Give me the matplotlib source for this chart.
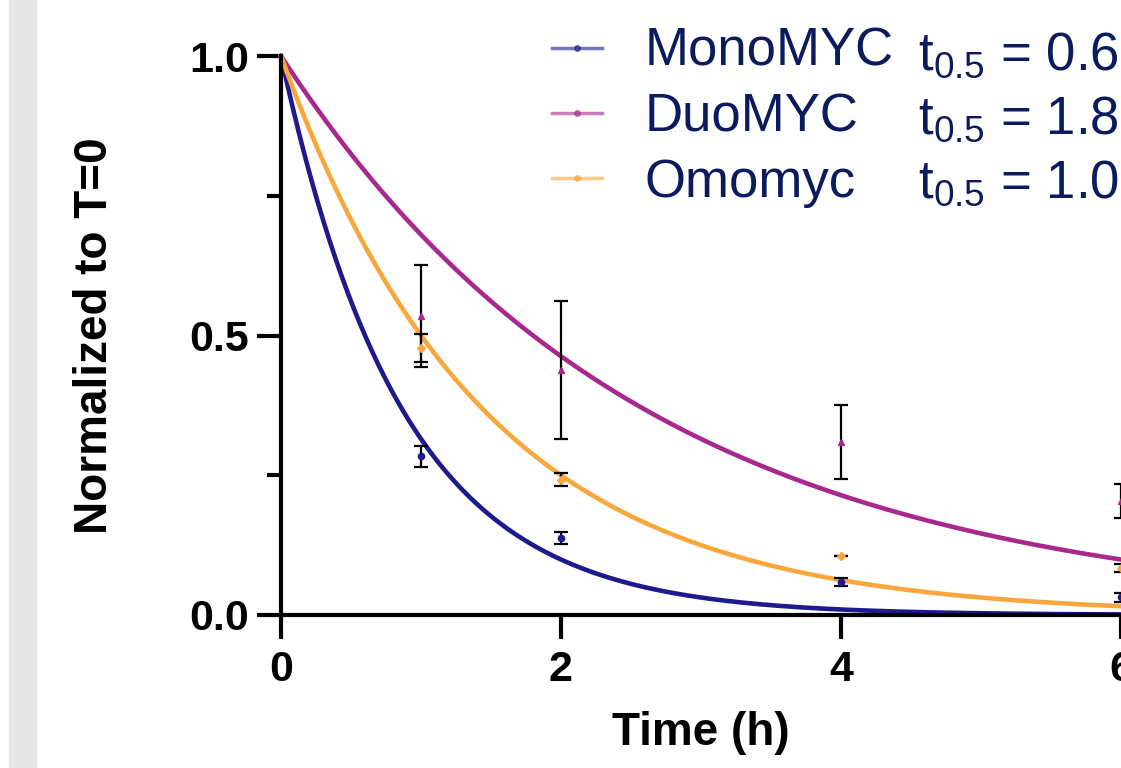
import numpy as np
import matplotlib
matplotlib.use('Agg')
import matplotlib.pyplot as plt
from matplotlib.lines import Line2D
from matplotlib.patches import Rectangle
from matplotlib.ticker import MultipleLocator

plt.rcParams['font.family'] = ['Liberation Sans', 'DejaVu Sans']
plt.rcParams['mathtext.fontset'] = 'custom'
plt.rcParams['mathtext.rm'] = 'Liberation Sans'
plt.rcParams['mathtext.it'] = 'Liberation Sans'

# ---- data ----
time_h = [1, 2, 4, 6]
names = ['MonoMYC', 'DuoMYC', 'Omomyc']
half_life = [0.6, 1.8, 1.0]          # one-phase decay fit, t0.5 in h
mono_mean = [0.284, 0.138, 0.059, 0.032]
mono_err = [0.019, 0.011, 0.007, 0.008]
duo_mean = [0.535, 0.438, 0.309, 0.204]
duo_err = [0.091, 0.124, 0.066, 0.031]
omo_mean = [0.478, 0.242, 0.106, 0.084]
omo_err = [0.025, 0.012, 0.0, 0.007]

colors = ['#1c1a8c', '#a8288e', '#f9a63c']
markers = ['o', '^', 'D']
means = [mono_mean, duo_mean, omo_mean]
errs = [mono_err, duo_err, omo_err]

fig = plt.figure(figsize=(11.21, 7.68), dpi=100)
fig.patches.append(Rectangle((9 / 1121, 0), 27 / 1121, 1, transform=fig.transFigure,
                             color='#e6e6e6', zorder=0))

# axes placed so x=0 at 281px, 140 px per hour; figure crops at t=6
xmax = 6.5
ax = fig.add_axes([281 / 1121, 153 / 768, xmax * 140 / 1121, 559 / 768])
ax.patch.set_alpha(0)

# fitted curves
t_fit = np.linspace(0, xmax, 300)
for hl, c in zip(half_life, colors):
    ax.plot(t_fit, np.exp(-np.log(2) / hl * t_fit), color=c, linewidth=3.3, zorder=2,
            clip_on=False)

# data with SD
for m, e, c, mk in zip(means, errs, colors, markers):
    ax.errorbar(time_h, m, yerr=e, fmt='none', ecolor='black', elinewidth=1.6,
                capsize=5, capthick=1.6, zorder=3, clip_on=False)
    ax.plot(time_h, m, linestyle='none', marker=mk, markersize=4.5, color=c, zorder=4,
            clip_on=False)

ax.set_xlim(0, xmax)
ax.set_ylim(0, 1)
ax.set_xticks([0, 2, 4, 6])
ax.set_yticks([0, 0.5, 1.0])
ax.set_yticklabels(['0.0', '0.5', '1.0'])
ax.yaxis.set_minor_locator(MultipleLocator(0.25))
for s in ['top', 'right']:
    ax.spines[s].set_visible(False)
for s in ['left', 'bottom']:
    ax.spines[s].set_linewidth(3)
ax.tick_params(axis='both', which='major', length=17, width=3, labelsize=31, pad=6)
ax.tick_params(axis='x', which='major', pad=8)
ax.tick_params(axis='y', which='minor', length=10, width=3)
for lab in ax.get_xticklabels() + ax.get_yticklabels():
    lab.set_fontweight('bold')

ax.set_xlabel('Time (h)', fontsize=33, fontweight='bold')
ax.xaxis.set_label_coords(3 / xmax, -0.172)
ax.set_ylabel('Normalized to T=0', fontsize=33, fontweight='bold', labelpad=52)

# legend
handles = [Line2D([], [], color=c, linewidth=2.5, alpha=0.6, marker='o', markersize=4)
           for c in colors]
leg = ax.legend(handles, names, loc='upper left', bbox_to_anchor=(552 / 1121, 1 - 27 / 768),
                bbox_transform=fig.transFigure, frameon=False, fontsize=38,
                handlelength=0.95, handletextpad=0.8, labelspacing=0.29,
                borderpad=0, borderaxespad=0)
for txt in leg.get_texts():
    txt.set_color('#0c1a5e')

hl_text = ['$\\mathrm{t_{0.5}}$ = 0.6', '$\\mathrm{t_{0.5}}$ = 1.8', '$\\mathrm{t_{0.5}}$ = 1.0']
for i, s in enumerate(hl_text):
    fig.text(918 / 1121, 1 - (70 + 64 * i) / 768, s, fontsize=38, color='#0c1a5e',
             ha='left', va='baseline')

fig.savefig('out.png', dpi=100)
